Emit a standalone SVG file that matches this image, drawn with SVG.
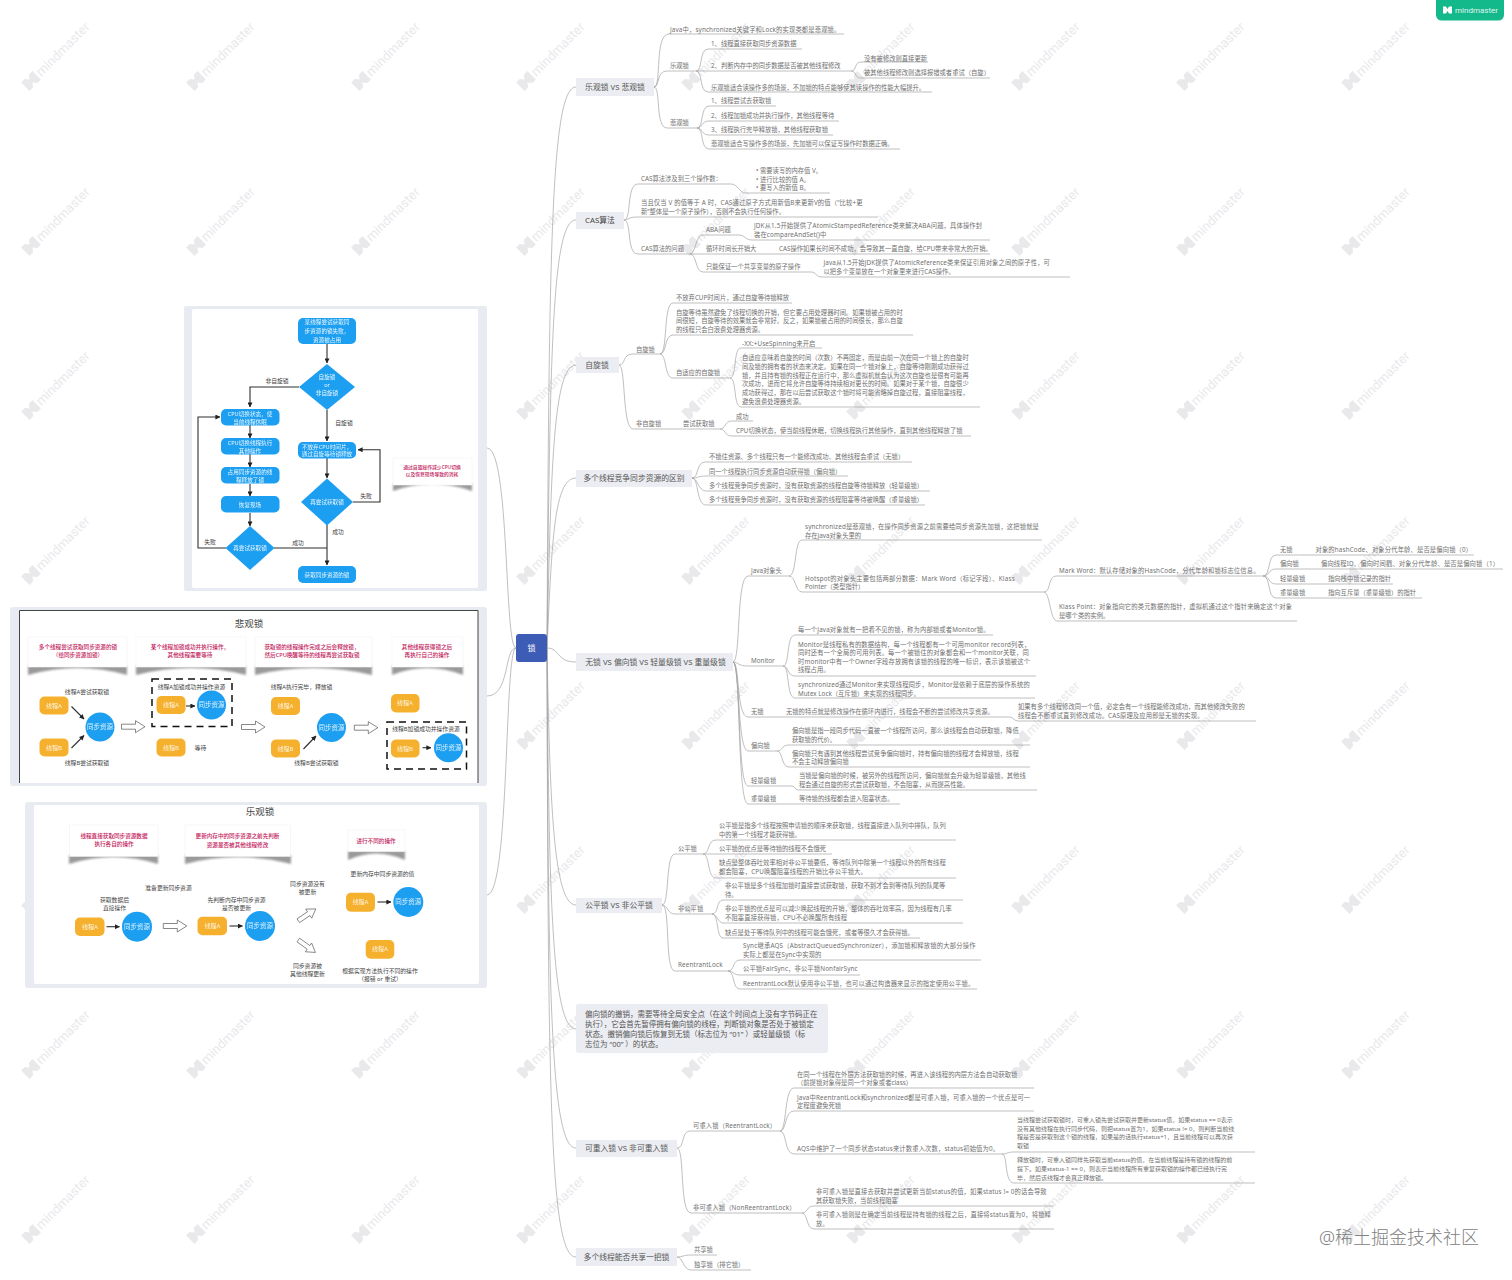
<svg xmlns="http://www.w3.org/2000/svg" xmlns:xlink="http://www.w3.org/1999/xlink" width="1512" height="1280" viewBox="0 0 1512 1280">
<style>
text{font-family:"Noto Sans","Noto Sans CJK SC",sans-serif}
.t{font-size:6.3px;fill:#707070}
.x{letter-spacing:.14px}
.sm{font-size:6px}
.b{font-size:7.8px;fill:#555;text-anchor:middle}
.br{fill:#ecedf2}
.c path{fill:none;stroke:#a3a3a3;stroke-width:.7}
.fr{fill:#e9ebf2}
.w{fill:#fff}
.bl{fill:#1d9ff1}
.or{fill:#f5b12e}
.wt{font-size:5.6px;fill:#fff;text-anchor:middle;opacity:.9}
.ot{font-size:6px;fill:#fff;text-anchor:middle;opacity:.85}
.ct{font-size:6.5px;fill:#fff;text-anchor:middle;opacity:.85}
.l{font-size:5.8px;fill:#444;text-anchor:middle}
.p{font-size:5.6px;fill:#c2185b;text-anchor:middle;font-weight:500}
.ti{font-size:9.5px;fill:#444;text-anchor:middle}
.f{fill:none;stroke:#2f2f2f;stroke-width:1.1}
.a{marker-end:url(#ah)}
.d{fill:none;stroke:#111;stroke-width:1.5;stroke-dasharray:7 5}
.s{fill:#9a9a9a;filter:url(#sb)}
.h{fill:#fff;stroke:#555;stroke-width:.7}
.wm{fill:#e9e9ec}
</style>
<defs>
<marker id="ah" markerUnits="userSpaceOnUse" markerWidth="5" markerHeight="5" refX="4.6" refY="2.5" orient="auto"><path d="M0,0L5,2.5L0,5Z" fill="#222"/></marker>
<filter id="sb" x="-10%" y="-60%" width="120%" height="220%"><feGaussianBlur stdDeviation="1"/></filter>
<g id="wm" class="wm"><path d="M-8,-6L-3,-6L0,-2L3,-6L8,-6L8,6L3,6L0,2L-3,6L-8,6Z"/><text x="10" y="4.5" font-size="13" style="fill:#e9e9ec;font-family:Roboto,sans-serif">mindmaster</text></g>
<polygon id="ha" class="h" points="0,-2.5 14,-2.5 14,-6 23.5,0 14,6 14,2.5 0,2.5"/>
</defs>
<rect width="1512" height="1280" fill="#fff"/>
<g id="watermarks">
<use xlink:href="#wm" transform="translate(31,81) rotate(-45)"/><use xlink:href="#wm" transform="translate(196,81) rotate(-45)"/><use xlink:href="#wm" transform="translate(361,81) rotate(-45)"/><use xlink:href="#wm" transform="translate(526,81) rotate(-45)"/><use xlink:href="#wm" transform="translate(691,81) rotate(-45)"/><use xlink:href="#wm" transform="translate(856,81) rotate(-45)"/><use xlink:href="#wm" transform="translate(1021,81) rotate(-45)"/><use xlink:href="#wm" transform="translate(1186,81) rotate(-45)"/><use xlink:href="#wm" transform="translate(1351,81) rotate(-45)"/>
<use xlink:href="#wm" transform="translate(31,246) rotate(-45)"/><use xlink:href="#wm" transform="translate(196,246) rotate(-45)"/><use xlink:href="#wm" transform="translate(361,246) rotate(-45)"/><use xlink:href="#wm" transform="translate(526,246) rotate(-45)"/><use xlink:href="#wm" transform="translate(691,246) rotate(-45)"/><use xlink:href="#wm" transform="translate(856,246) rotate(-45)"/><use xlink:href="#wm" transform="translate(1021,246) rotate(-45)"/><use xlink:href="#wm" transform="translate(1186,246) rotate(-45)"/><use xlink:href="#wm" transform="translate(1351,246) rotate(-45)"/>
<use xlink:href="#wm" transform="translate(31,410) rotate(-45)"/><use xlink:href="#wm" transform="translate(196,410) rotate(-45)"/><use xlink:href="#wm" transform="translate(361,410) rotate(-45)"/><use xlink:href="#wm" transform="translate(526,410) rotate(-45)"/><use xlink:href="#wm" transform="translate(691,410) rotate(-45)"/><use xlink:href="#wm" transform="translate(856,410) rotate(-45)"/><use xlink:href="#wm" transform="translate(1021,410) rotate(-45)"/><use xlink:href="#wm" transform="translate(1186,410) rotate(-45)"/><use xlink:href="#wm" transform="translate(1351,410) rotate(-45)"/>
<use xlink:href="#wm" transform="translate(31,575) rotate(-45)"/><use xlink:href="#wm" transform="translate(196,575) rotate(-45)"/><use xlink:href="#wm" transform="translate(361,575) rotate(-45)"/><use xlink:href="#wm" transform="translate(526,575) rotate(-45)"/><use xlink:href="#wm" transform="translate(691,575) rotate(-45)"/><use xlink:href="#wm" transform="translate(856,575) rotate(-45)"/><use xlink:href="#wm" transform="translate(1021,575) rotate(-45)"/><use xlink:href="#wm" transform="translate(1186,575) rotate(-45)"/><use xlink:href="#wm" transform="translate(1351,575) rotate(-45)"/>
<use xlink:href="#wm" transform="translate(31,740) rotate(-45)"/><use xlink:href="#wm" transform="translate(196,740) rotate(-45)"/><use xlink:href="#wm" transform="translate(361,740) rotate(-45)"/><use xlink:href="#wm" transform="translate(526,740) rotate(-45)"/><use xlink:href="#wm" transform="translate(691,740) rotate(-45)"/><use xlink:href="#wm" transform="translate(856,740) rotate(-45)"/><use xlink:href="#wm" transform="translate(1021,740) rotate(-45)"/><use xlink:href="#wm" transform="translate(1186,740) rotate(-45)"/><use xlink:href="#wm" transform="translate(1351,740) rotate(-45)"/>
<use xlink:href="#wm" transform="translate(31,904) rotate(-45)"/><use xlink:href="#wm" transform="translate(196,904) rotate(-45)"/><use xlink:href="#wm" transform="translate(361,904) rotate(-45)"/><use xlink:href="#wm" transform="translate(526,904) rotate(-45)"/><use xlink:href="#wm" transform="translate(691,904) rotate(-45)"/><use xlink:href="#wm" transform="translate(856,904) rotate(-45)"/><use xlink:href="#wm" transform="translate(1021,904) rotate(-45)"/><use xlink:href="#wm" transform="translate(1186,904) rotate(-45)"/><use xlink:href="#wm" transform="translate(1351,904) rotate(-45)"/>
<use xlink:href="#wm" transform="translate(31,1069) rotate(-45)"/><use xlink:href="#wm" transform="translate(196,1069) rotate(-45)"/><use xlink:href="#wm" transform="translate(361,1069) rotate(-45)"/><use xlink:href="#wm" transform="translate(526,1069) rotate(-45)"/><use xlink:href="#wm" transform="translate(691,1069) rotate(-45)"/><use xlink:href="#wm" transform="translate(856,1069) rotate(-45)"/><use xlink:href="#wm" transform="translate(1021,1069) rotate(-45)"/><use xlink:href="#wm" transform="translate(1186,1069) rotate(-45)"/><use xlink:href="#wm" transform="translate(1351,1069) rotate(-45)"/>
<use xlink:href="#wm" transform="translate(31,1234) rotate(-45)"/><use xlink:href="#wm" transform="translate(196,1234) rotate(-45)"/><use xlink:href="#wm" transform="translate(361,1234) rotate(-45)"/><use xlink:href="#wm" transform="translate(526,1234) rotate(-45)"/><use xlink:href="#wm" transform="translate(691,1234) rotate(-45)"/><use xlink:href="#wm" transform="translate(856,1234) rotate(-45)"/><use xlink:href="#wm" transform="translate(1021,1234) rotate(-45)"/><use xlink:href="#wm" transform="translate(1186,1234) rotate(-45)"/><use xlink:href="#wm" transform="translate(1351,1234) rotate(-45)"/>
</g>

<g id="connectors" class="c">
<path d="M516,648C504,648 510,448 487,448"/><path d="M516,648C504,648 510,696 487,696"/><path d="M516,648C504,648 510,895 487,895"/>
<path d="M547,648C549,250 551,87 576,87"/><path d="M547,648C550,350 552,220 576,220"/><path d="M547,648C551,470 553,365 576,365"/><path d="M547,648C552,540 554,478 576,478"/><path d="M547,648C560,648 556,662 576,662"/><path d="M547,648C550,800 553,905 576,905"/><path d="M547,648C549,900 552,1029 576,1029"/><path d="M547,648C548,1000 551,1148 576,1148"/><path d="M547,648C548,1100 550,1257 576,1257"/>
<path d="M654,87C662,87 654,34 669,34H844"/><path d="M654,87C660,87 656,71 667,71H696"/><path d="M654,87C661,87 655,128 667,128H697"/>
<path d="M696,71C703,71 699,49 708,49H802"/><path d="M696,71H851"/><path d="M696,71C703,71 699,92 708,92H932"/>
<path d="M851,71C857,71 854,62 861,62H928"/><path d="M851,71C857,71 854,78 861,78H990"/>
<path d="M697,128C704,128 700,106 709,106H776"/><path d="M697,128C703,128 701,121 709,121H839"/><path d="M697,128C703,128 701,135 709,135H833"/><path d="M697,128C704,128 700,149 709,149H900"/>
<path d="M624,220C632,220 626,184 638,184H731C738,184 739,193 746,193H830"/><path d="M624,220C629,220 628,217 637,217H878"/><path d="M624,220C632,220 626,254 638,254H690"/>
<path d="M690,254C696,254 695,235 703,235H739C745,235 745,240 752,240H990"/><path d="M690,254H990"/><path d="M690,254C697,254 695,272 703,272H811C816,272 816,277 822,277H1070"/>
<path d="M619,365C626,365 622,354 633,354H660"/><path d="M619,365C626,365 622,429 633,429H720"/>
<path d="M660,354C668,354 663,303 673,303H792"/><path d="M660,354C667,354 664,335 673,335H913"/><path d="M660,354C667,354 664,378 673,378H730"/>
<path d="M730,378C737,378 733,348 741,348H822"/><path d="M730,378C737,378 733,407 741,407H980"/>
<path d="M720,429C726,429 724,421 732,421H753"/><path d="M720,429C726,429 724,436 732,436H971"/>
<path d="M692,478C699,478 696,462 705,462H912"/><path d="M692,478C698,478 698,476 706,476H848"/><path d="M692,478C698,478 698,491 706,491H930"/><path d="M692,478C699,478 696,505 706,505H925"/>
<path d="M733,662C741,662 736,576 748,576H789"/><path d="M733,662C738,662 738,666 748,666H783"/><path d="M733,662C740,662 736,717 748,717H1010C1013,717 1014,721 1018,721H1256"/><path d="M733,662C740,662 737,751 748,751H777"/><path d="M733,662C741,662 737,786 748,786H792C795,786 795,790 798,790H1037"/><path d="M733,662C741,662 737,804 748,804H900"/>
<path d="M789,576C797,576 794,540 802,540H1042"/><path d="M789,576C796,576 795,592 802,592H1044"/>
<path d="M1044,592C1051,592 1048,576 1056,576H1263"/><path d="M1044,592C1050,592 1050,621 1057,621H1297"/>
<path d="M1263,576C1271,576 1267,555 1276,555H1474"/><path d="M1263,576C1270,576 1268,569 1276,569H1503"/><path d="M1263,576C1270,576 1268,584 1276,584H1393"/><path d="M1263,576C1271,576 1267,598 1276,598H1422"/>
<path d="M783,666C790,666 786,635 795,635H993"/><path d="M783,666C789,666 787,676 795,676H1036"/><path d="M783,666C790,666 786,698 795,698H1035"/>
<path d="M777,751C783,751 781,745 789,745H1030"/><path d="M777,751C783,751 781,767 789,767H1030"/>
<path d="M662,905C670,905 665,854 675,854H703"/><path d="M662,905C668,905 667,914 675,914H712"/><path d="M662,905C671,905 664,971 675,971H728"/>
<path d="M703,854C710,854 707,840 716,840H956"/><path d="M703,854H832"/><path d="M703,854C710,854 707,878 716,878H956"/>
<path d="M712,914C719,914 716,900 723,900H963"/><path d="M712,914C717,914 718,923 723,923H963"/><path d="M712,914C719,914 716,938 723,938H920"/>
<path d="M728,971C735,971 732,960 740,960H981"/><path d="M728,971C734,971 733,975 740,975H860"/><path d="M728,971C735,971 732,989 740,989H977"/>
<path d="M677,1148C685,1148 681,1131 690,1131H780"/><path d="M677,1148C685,1148 679,1213 691,1213H802"/>
<path d="M780,1131C787,1131 784,1088 794,1088H1034"/><path d="M780,1131C787,1131 784,1111 794,1111H1034"/><path d="M780,1131C787,1131 784,1154 794,1154H1002"/>
<path d="M1002,1154C1008,1154 1006,1152 1014,1152H1255"/><path d="M1002,1154C1008,1154 1004,1183 1014,1183H1255"/>
<path d="M802,1213C808,1213 806,1206 814,1206H1054"/><path d="M802,1213C808,1213 806,1229 814,1229H1054"/>
<path d="M677,1257C683,1257 683,1255 691,1255H717"/><path d="M677,1257C683,1257 683,1270 691,1270H751"/>
</g>

<g id="n-center"><rect x="516" y="634" width="31" height="28" rx="3" fill="#3d5cb6"/><text x="531.5" y="651" font-size="8" fill="#fff" text-anchor="middle">锁</text></g>

<g id="n-optimistic">
<rect class="br" x="576" y="78" width="78" height="18"/><text class="b" x="615" y="90">乐观锁 VS 悲观锁</text>
<text class="t x" x="670" y="32">Java中，synchronized关键字和Lock的实现类都是悲观锁。</text>
<text class="t" x="670" y="67.5">乐观锁</text>
<text class="t" x="711" y="45.5">1、线程直接获取同步资源数据</text>
<text class="t" x="711" y="67.5">2、判断内存中的同步数据是否被其他线程修改</text>
<text class="t" x="864" y="60.5">没有被修改则直接更新</text>
<text class="t" x="864" y="74.5">被其他线程修改则选择报错或者重试（自旋）</text>
<text class="t" x="711" y="89.5">乐观锁适合读操作多的场景，不加锁的特点能够使其读操作的性能大幅提升。</text>
<text class="t" x="670" y="125">悲观锁</text>
<text class="t" x="711" y="103">1、线程尝试去获取锁</text>
<text class="t" x="711" y="117.5">2、线程加锁成功并执行操作，其他线程等待</text>
<text class="t" x="711" y="132">3、线程执行完毕释放锁，其他线程获取锁</text>
<text class="t" x="711" y="146">悲观锁适合写操作多的场景，先加锁可以保证写操作时数据正确。</text>
</g>

<g id="n-cas">
<rect class="br" x="576" y="212" width="48" height="17"/><text class="b" x="600" y="223" style="fill:#444">CAS算法</text>
<text class="t" x="641" y="181">CAS算法涉及到三个操作数：</text>
<text class="t" x="756" y="173">•</text><text class="t" x="756" y="181.5">•</text><text class="t" x="756" y="190">•</text>
<text class="t" x="760" y="173">需要读写的内存值 V。</text><text class="t" x="760" y="181.5">进行比较的值 A。</text><text class="t" x="760" y="190">要写入的新值 B。</text>
<text class="t x" x="641" y="204.5">当且仅当 V 的值等于 A 时，CAS通过原子方式用新值B来更新V的值（“比较+更</text>
<text class="t" x="641" y="213.5">新”整体是一个原子操作），否则不会执行任何操作。</text>
<text class="t" x="641" y="250.5">CAS算法的问题</text>
<text class="t" x="706" y="231.5">ABA问题</text>
<text class="t x" x="754" y="227.5">JDK从1.5开始提供了AtomicStampedReference类来解决ABA问题，具体操作封</text>
<text class="t x" x="754" y="236.5">装在compareAndSet()中</text>
<text class="t" x="706" y="250.5">循环时间长开销大</text>
<text class="t" x="779" y="250.5">CAS操作如果长时间不成功，会导致其一直自旋，给CPU带来非常大的开销。</text>
<text class="t" x="706" y="269">只能保证一个共享变量的原子操作</text>
<text class="t x" x="823.5" y="265">Java从1.5开始JDK提供了AtomicReference类来保证引用对象之间的原子性，可</text>
<text class="t" x="823.5" y="274">以把多个变量放在一个对象里来进行CAS操作。</text>
</g>

<g id="n-spin">
<rect class="br" x="576" y="357" width="43" height="16"/><text class="b" x="597" y="368">自旋锁</text>
<text class="t" x="636" y="351.5">自旋锁</text>
<text class="t" x="676" y="299.5">不放弃CUP时间片，通过自旋等待锁释放</text>
<text class="t" x="676" y="314.5">自旋等待虽然避免了线程切换的开销，但它要占用处理器时间。如果锁被占用的时</text>
<text class="t" x="676" y="323">间很短，自旋等待的效果就会非常好。反之，如果锁被占用的时间很长，那么自旋</text>
<text class="t" x="676" y="331.5">的线程只会白浪费处理器资源。</text>
<text class="t" x="676" y="375">自适应的自旋锁</text>
<text class="t x" x="742" y="346">-XX:+UseSpinning来开启</text>
<text class="t" x="742" y="360">自适应意味着自旋的时间（次数）不再固定，而是由前一次在同一个锁上的自旋时</text>
<text class="t" x="742" y="369">间及锁的拥有者的状态来决定。如果在同一个锁对象上，自旋等待刚刚成功获得过</text>
<text class="t" x="742" y="377.5">锁，并且持有锁的线程正在运行中，那么虚拟机就会认为这次自旋也是很有可能再</text>
<text class="t" x="742" y="386">次成功，进而它将允许自旋等待持续相对更长的时间。如果对于某个锁，自旋很少</text>
<text class="t" x="742" y="395">成功获得过，那在以后尝试获取这个锁时将可能省略掉自旋过程，直接阻塞线程，</text>
<text class="t" x="742" y="403.5">避免浪费处理器资源。</text>
<text class="t" x="636" y="425.5">非自旋锁</text>
<text class="t" x="683" y="425.5">尝试获取锁</text>
<text class="t" x="736" y="418.5">成功</text>
<text class="t" x="736" y="432.5">CPU切换状态，使当前线程休眠，切换线程执行其他操作，直到其他线程释放了锁</text>
</g>

<g id="n-compete">
<rect class="br" x="576" y="470" width="116" height="17"/><text class="b" x="634" y="481">多个线程竞争同步资源的区别</text>
<text class="t" x="709" y="459">不锁住资源、多个线程只有一个能修改成功、其他线程会重试（无锁）</text>
<text class="t" x="709" y="473.5">同一个线程执行同步资源自动获得锁（偏向锁）</text>
<text class="t" x="709" y="487.5">多个线程竞争同步资源时，没有获取资源的线程自旋等待锁释放（轻量级锁）</text>
<text class="t" x="709" y="502">多个线程竞争同步资源时，没有获取资源的线程阻塞等待被唤醒（重量级锁）</text>
</g>

<g id="n-levels">
<rect class="br" x="576" y="653" width="157" height="18"/><text class="b" x="655.5" y="665">无锁 VS 偏向锁 VS 轻量级锁 VS 重量级锁</text>
<text class="t" x="751" y="573">Java对象头</text>
<text class="t x" x="805" y="528.5">synchronized是悲观锁，在操作同步资源之前需要给同步资源先加锁，这把锁就是</text>
<text class="t" x="805" y="537.5">存在Java对象头里的</text>
<text class="t x" x="805" y="580.5" style="letter-spacing:.22px">Hotspot的对象头主要包括两部分数据：Mark Word（标记字段）、Klass</text>
<text class="t" x="805" y="589">Pointer（类型指针）</text>
<text class="t x" x="1059" y="573">Mark Word：默认存储对象的HashCode，分代年龄和锁标志位信息。</text>
<text class="t" x="1280" y="551.5">无锁</text><text class="t x" x="1315.5" y="551.5">对象的hashCode、对象分代年龄、是否是偏向锁（0）</text>
<text class="t" x="1280" y="566">偏向锁</text><text class="t x" x="1321" y="566">偏向线程ID、偏向时间戳、对象分代年龄、是否是偏向锁（1）</text>
<text class="t" x="1280" y="580.5">轻量级锁</text><text class="t" x="1328" y="580.5">指向栈中锁记录的指针</text>
<text class="t" x="1280" y="594.5">重量级锁</text><text class="t" x="1328" y="594.5">指向互斥量（重量级锁）的指针</text>
<text class="t x" x="1059" y="608.5">Klass Point：对象指向它的类元数据的指针，虚拟机通过这个指针来确定这个对象</text>
<text class="t" x="1059" y="617.5">是哪个类的实例。</text>
<text class="t" x="751" y="663">Monitor</text>
<text class="t x" x="798" y="631.5">每一个Java对象就有一把看不见的锁，称为内部锁或者Monitor锁。</text>
<text class="t x" x="798" y="646.5">Monitor是线程私有的数据结构，每一个线程都有一个可用monitor record列表，</text>
<text class="t x" x="798" y="655">同时还有一个全局的可用列表。每一个被锁住的对象都会和一个monitor关联，同</text>
<text class="t x" x="798" y="663.5">时monitor中有一个Owner字段存放拥有该锁的线程的唯一标识，表示该锁被这个</text>
<text class="t" x="798" y="672">线程占用。</text>
<text class="t x" x="798" y="686.5">synchronized通过Monitor来实现线程同步，Monitor是依赖于底层的操作系统的</text>
<text class="t" x="798" y="695.5">Mutex Lock（互斥锁）来实现的线程同步。</text>
<text class="t" x="751" y="714">无锁</text><text class="t" x="786" y="714">无锁的特点就是修改操作在循环内进行，线程会不断的尝试修改共享资源。</text>
<text class="t" x="1018" y="709">如果有多个线程修改同一个值，必定会有一个线程能修改成功，而其他修改失败的</text>
<text class="t x" x="1018" y="718">线程会不断重试直到修改成功。CAS原理及应用即是无锁的实现。</text>
<text class="t" x="751" y="748">偏向锁</text>
<text class="t" x="792" y="732.5">偏向锁是指一段同步代码一直被一个线程所访问，那么该线程会自动获取锁，降低</text>
<text class="t" x="792" y="741.5">获取锁的代价。</text>
<text class="t" x="792" y="755.5">偏向锁只有遇到其他线程尝试竞争偏向锁时，持有偏向锁的线程才会释放锁，线程</text>
<text class="t" x="792" y="764">不会主动释放偏向锁</text>
<text class="t" x="751" y="782.5">轻量级锁</text>
<text class="t" x="799" y="778">当锁是偏向锁的时候，被另外的线程所访问，偏向锁就会升级为轻量级锁，其他线</text>
<text class="t" x="799" y="787">程会通过自旋的形式尝试获取锁，不会阻塞，从而提高性能。</text>
<text class="t" x="751" y="801">重量级锁</text><text class="t" x="799" y="801">等待锁的线程都会进入阻塞状态。</text>
</g>

<g id="n-fair">
<rect class="br" x="576" y="898" width="86" height="15"/><text class="b" x="619" y="908">公平锁 VS 非公平锁</text>
<text class="t" x="678" y="850.5">公平锁</text>
<text class="t" x="719" y="827.5">公平锁是指多个线程按照申请锁的顺序来获取锁，线程直接进入队列中排队，队列</text>
<text class="t" x="719" y="836.5">中的第一个线程才能获得锁。</text>
<text class="t" x="719" y="850.5">公平锁的优点是等待锁的线程不会饿死</text>
<text class="t" x="719" y="865">缺点是整体吞吐效率相对非公平锁要低，等待队列中除第一个线程以外的所有线程</text>
<text class="t x" x="719" y="874">都会阻塞，CPU唤醒阻塞线程的开销比非公平锁大。</text>
<text class="t" x="678" y="911">非公平锁</text>
<text class="t" x="725" y="888">非公平锁是多个线程加锁时直接尝试获取锁，获取不到才会到等待队列的队尾等</text>
<text class="t" x="725" y="896.5">待。</text>
<text class="t" x="725" y="911">非公平锁的优点是可以减少唤起线程的开销，整体的吞吐效率高，因为线程有几率</text>
<text class="t x" x="725" y="920">不阻塞直接获得锁，CPU不必唤醒所有线程</text>
<text class="t" x="725" y="934.5">缺点是处于等待队列中的线程可能会饿死，或者等很久才会获得锁。</text>
<text class="t x" x="678" y="967">ReentrantLock</text>
<text class="t" x="743" y="948" style="letter-spacing:.2px">Sync继承AQS（AbstractQueuedSynchronizer），添加锁和释放锁的大部分操作</text>
<text class="t x" x="743" y="957">实际上都是在Sync中实现的</text>
<text class="t x" x="743" y="971">公平锁FairSync，非公平锁NonfairSync</text>
<text class="t x" x="743" y="985.5">ReentrantLock默认使用非公平锁，也可以通过构造器来显示的指定使用公平锁。</text>
</g>

<g id="n-revoke">
<rect class="br" x="576" y="1004" width="252" height="49" rx="2"/>
<text font-size="7.5" fill="#555"><tspan x="585" y="1016.5">偏向锁的撤销，需要等待全局安全点（在这个时间点上没有字节码正在</tspan><tspan x="585" y="1026.8">执行），它会首先暂停拥有偏向锁的线程，判断锁对象是否处于被锁定</tspan><tspan x="585" y="1037">状态。撤销偏向锁后恢复到无锁（标志位为 “01” ）或轻量级锁（标</tspan><tspan x="585" y="1047">志位为 “00” ）的状态。</tspan></text>
</g>

<g id="n-reentrant">
<rect class="br" x="576" y="1140" width="101" height="17"/><text class="b" x="626.5" y="1151">可重入锁 VS 非可重入锁</text>
<text class="t x" x="693" y="1128">可重入锁（ReentrantLock）</text>
<text class="t" x="797" y="1076.5">在同一个线程在外层方法获取锁的时候，再进入该线程的内层方法会自动获取锁</text>
<text class="t" x="797" y="1084.5">（前提锁对象得是同一个对象或者class）</text>
<text class="t x" x="797" y="1099.5">Java中ReentrantLock和synchronized都是可重入锁，可重入锁的一个优点是可一</text>
<text class="t" x="797" y="1108">定程度避免死锁</text>
<text class="t x" x="797" y="1150.5">AQS中维护了一个同步状态status来计数重入次数，status初始值为0。</text>
<text class="t sm" x="1017" y="1122">当线程尝试获取锁时，可重入锁先尝试获取并更新status值，如果status == 0表示</text>
<text class="t sm" x="1017" y="1130.5">没有其他线程在执行同步代码，则把status置为1，如果status != 0，则判断当前线</text>
<text class="t sm" x="1017" y="1139">程是否是获取到这个锁的线程，如果是的话执行status+1，且当前线程可以再次获</text>
<text class="t sm" x="1017" y="1148">取锁</text>
<text class="t sm" x="1017" y="1162">释放锁时，可重入锁同样先获取当前status的值，在当前线程是持有锁的线程的前</text>
<text class="t sm" x="1017" y="1171">提下。如果status-1 == 0，则表示当前线程所有重复获取锁的操作都已经执行完</text>
<text class="t sm" x="1017" y="1179.5">毕，然后该线程才会真正释放锁。</text>
<text class="t x" x="693" y="1210">非可重入锁（NonReentrantLock）</text>
<text class="t x" x="816" y="1194">非可重入锁是直接去获取并尝试更新当前status的值，如果status != 0的话会导致</text>
<text class="t" x="816" y="1203">其获取锁失败，当前线程阻塞</text>
<text class="t x" x="816" y="1216.5">非可重入锁则是在确定当前线程是持有锁的线程之后，直接将status置为0，将锁释</text>
<text class="t" x="816" y="1225.5">放。</text>
</g>

<g id="n-share">
<rect class="br" x="576" y="1248" width="101" height="18"/><text class="b" x="626.5" y="1260">多个线程能否共享一把锁</text>
<text class="t" x="694" y="1252">共享锁</text>
<text class="t" x="694" y="1267">独享锁（排它锁）</text>
</g>

<g id="img-spin">
<rect class="fr" x="184" y="306" width="303" height="285" rx="2"/><rect class="w" x="192" y="309" width="286" height="279" rx="2"/>
<g id="flow-lines">
<path class="f a" d="M327,344V363"/><path class="f a" d="M299,387H250V407"/><path class="f a" d="M327,410V441"/><path class="f a" d="M327,458V478"/><path class="f a" d="M353,502H380V449.7H358"/><path class="f a" d="M327,525V565"/><path class="f a" d="M250,425V438"/><path class="f a" d="M250,454V467"/><path class="f a" d="M250,484V496"/><path class="f a" d="M250,513V526"/><path class="f a" d="M226,548H198V417H220"/><path class="f" d="M274,548H327"/>
</g>
<rect class="bl" x="298" y="318" width="58" height="26" rx="5"/><text class="wt"><tspan x="327" y="324">某线程尝试获取同</tspan><tspan x="327" y="333">步资源的锁失败，</tspan><tspan x="327" y="342">资源被占用</tspan></text>
<path class="bl" d="M327,364L355,387L327,410L299,387Z"/><text class="wt"><tspan x="327" y="379">自旋锁</tspan><tspan x="327" y="387">or</tspan><tspan x="327" y="395">非自旋锁</tspan></text>
<text class="l" x="277" y="383">非自旋锁</text><text class="l" x="344" y="425">自旋锁</text>
<rect class="bl" x="298" y="442" width="58" height="16.5" rx="5"/><text class="wt"><tspan x="327" y="449">不放弃CPU时间片，</tspan><tspan x="327" y="456">通过自旋等待锁释放</tspan></text>
<path class="bl" d="M327,478.5L353,502L327,525.5L301,502Z"/><text class="wt" x="327" y="504">再尝试获取锁</text>
<text class="l" x="366" y="498">失败</text><text class="l" x="338" y="534">成功</text>
<rect class="bl" x="298" y="566" width="58" height="17" rx="5"/><text class="wt" x="327" y="577">获取同步资源的锁</text>
<rect class="bl" x="221" y="409" width="58.5" height="16.5" rx="5"/><text class="wt"><tspan x="250" y="416">CPU切换状态，使</tspan><tspan x="250" y="423.5">当前线程休眠</tspan></text>
<rect class="bl" x="221" y="438" width="58.5" height="16.5" rx="5"/><text class="wt"><tspan x="250" y="445">CPU切换线程执行</tspan><tspan x="250" y="452.5">其他操作</tspan></text>
<rect class="bl" x="221" y="467" width="58.5" height="16.5" rx="5"/><text class="wt"><tspan x="250" y="474">占用同步资源的线</tspan><tspan x="250" y="481.5">程释放了锁</tspan></text>
<rect class="bl" x="221" y="496" width="58.5" height="16.5" rx="5"/><text class="wt" x="250" y="506.5">恢复现场</text>
<path class="bl" d="M250,526L274.5,548L250,570L225.5,548Z"/><text class="wt" x="250" y="550">再尝试获取锁</text>
<text class="l" x="210" y="543.5">失败</text><text class="l" x="298" y="544.5">成功</text>
<path class="s" d="M393,484V491Q432,477 472,491V484Z"/><rect class="w" x="393" y="458" width="79" height="27" stroke="#eee" stroke-width=".5"/>
<text class="p" style="font-size:4.8px"><tspan x="432" y="469">通过自旋操作减少CPU切换</tspan><tspan x="432" y="476">以及恢复现场导致的消耗</tspan></text>
</g>

<g id="img-pessimistic">
<rect class="fr" x="10" y="607" width="477" height="179" rx="3"/><rect class="w" x="19" y="610" width="459" height="173"/>
<path d="M19.5,783V610.5H478V783" fill="none" stroke="#444" stroke-width="1"/>
<text class="ti" x="249" y="626.5">悲观锁</text>
<path class="s" d="M28,666V675Q78,661 127,675V666Z"/><rect class="w" x="28" y="637" width="99" height="30" stroke="#eee" stroke-width=".5"/>
<path class="s" d="M136,666V675Q191,661 246,675V666Z"/><rect class="w" x="136" y="637" width="110" height="30" stroke="#eee" stroke-width=".5"/>
<path class="s" d="M255,666V675Q313,661 372,675V666Z"/><rect class="w" x="255" y="637" width="117" height="30" stroke="#eee" stroke-width=".5"/>
<path class="s" d="M392,666V675Q427,661 463,675V666Z"/><rect class="w" x="392" y="637" width="71" height="30" stroke="#eee" stroke-width=".5"/>
<text class="p"><tspan x="78" y="648.5">多个线程尝试获取同步资源的锁</tspan><tspan x="78" y="656.5">（给同步资源加锁）</tspan></text>
<text class="p"><tspan x="190" y="648.5">某个线程加锁成功并执行操作，</tspan><tspan x="190" y="656.5">其他线程需要等待</tspan></text>
<text class="p"><tspan x="312" y="648.5">获取锁的线程操作完成之后会释放锁，</tspan><tspan x="312" y="656.5">然后CPU唤醒等待的线程再尝试获取锁</tspan></text>
<text class="p"><tspan x="427" y="648.5">其他线程获得锁之后</tspan><tspan x="427" y="656.5">再执行自己的操作</tspan></text>
<text class="l" x="87" y="693.5">线程A尝试获取锁</text><text class="l" x="87" y="764.5">线程B尝试获取锁</text>
<rect class="or" x="39.5" y="696.5" width="29" height="18" rx="5"/><text class="ot" x="54" y="707.5">线程A</text>
<rect class="or" x="39.5" y="738.5" width="29" height="18" rx="5"/><text class="ot" x="54" y="749.5">线程B</text>
<circle class="bl" cx="100" cy="727" r="14.5"/><text class="ct" x="100" y="729.3">同步资源</text>
<path class="f a" d="M71.5,706.5L84,719"/><path class="f a" d="M71.5,748L84,735.5"/>
<use xlink:href="#ha" transform="translate(121.5,726.7)"/>
<path class="d" d="M152,679H232V726.5H152Z"/>
<text class="l" x="191.5" y="688.5">线程A加锁成功并操作资源</text>
<rect class="or" x="156.5" y="696" width="29" height="18" rx="5"/><text class="ot" x="171" y="707">线程A</text>
<path class="f a" d="M186,706H195"/><circle class="bl" cx="211.5" cy="705" r="14.5"/><text class="ct" x="211.5" y="707.3">同步资源</text>
<rect class="or" x="156.5" y="738.5" width="29" height="18" rx="5"/><text class="ot" x="171" y="749.5">线程B</text>
<text class="l" x="200.5" y="750">等待</text>
<use xlink:href="#ha" transform="translate(241.5,727)"/>
<text class="l" x="301.5" y="688.5">线程A执行完毕，释放锁</text>
<rect class="or" x="271" y="697" width="29" height="18" rx="5"/><text class="ot" x="285.5" y="708">线程A</text>
<circle class="bl" cx="331.5" cy="727.5" r="14.5"/><text class="ct" x="331.5" y="729.8">同步资源</text>
<rect class="or" x="271" y="739.5" width="29" height="18" rx="5"/><text class="ot" x="285.5" y="750.5">线程B</text>
<path class="f a" d="M303.5,749L316,736"/><text class="l" x="316.5" y="764.5">线程B尝试获取锁</text>
<use xlink:href="#ha" transform="translate(354.3,727.7)"/>
<rect class="or" x="391" y="694" width="28.5" height="18.5" rx="5"/><text class="ot" x="405" y="705">线程A</text>
<path class="d" d="M387,722H466.5V769H387Z"/>
<text class="l" x="426" y="731">线程B加锁成功并操作资源</text>
<rect class="or" x="391" y="739.5" width="28.5" height="18" rx="5"/><text class="ot" x="405" y="750.5">线程B</text>
<path class="f a" d="M422.5,747.7H431"/><circle class="bl" cx="448.5" cy="747.7" r="14.5"/><text class="ct" x="448.5" y="750">同步资源</text>
</g>

<g id="img-optimistic">
<rect class="fr" x="25" y="802" width="462" height="186" rx="3"/><rect class="w" x="34" y="805" width="445" height="179" rx="2"/>
<text class="ti" x="260" y="815">乐观锁</text>
<path class="s" d="M69,855V864Q114,850 158,864V855Z"/><rect class="w" x="69.5" y="825" width="88.5" height="31.5" stroke="#eee" stroke-width=".5"/>
<path class="s" d="M185,855V864Q238,850 291,864V855Z"/><rect class="w" x="185" y="825" width="105.5" height="31.5" stroke="#eee" stroke-width=".5"/>
<path class="s" d="M348,851V860Q376,847 405,860V851Z"/><rect class="w" x="348" y="830" width="57" height="21.5" stroke="#eee" stroke-width=".5"/>
<text class="p"><tspan x="114" y="837.5">线程直接获取同步资源数据</tspan><tspan x="114" y="846">执行各自的操作</tspan></text>
<text class="p"><tspan x="237.5" y="838">更新内存中的同步资源之前先判断</tspan><tspan x="237.5" y="846.5">资源是否被其他线程修改</tspan></text>
<text class="p" x="376" y="842.5">进行不同的操作</text>
<text class="l" x="168.5" y="889.5">准备更新同步资源</text>
<text class="l"><tspan x="114.5" y="902">获取数据后</tspan><tspan x="114.5" y="910.3">直接操作</tspan></text>
<rect class="or" x="75" y="917.5" width="29.5" height="18.5" rx="5"/><text class="ot" x="90" y="929">线程A</text>
<path class="f a" d="M106.5,926.7H119.5"/><circle class="bl" cx="137" cy="926.7" r="15"/><text class="ct" x="137" y="929">同步资源</text>
<use xlink:href="#ha" transform="translate(163.3,926)"/>
<text class="l"><tspan x="236.5" y="902">先判断内存中同步资源</tspan><tspan x="236.5" y="910.3">是否被更新</tspan></text>
<rect class="or" x="197.5" y="916.7" width="29.5" height="18.5" rx="5"/><text class="ot" x="212.5" y="928">线程A</text>
<path class="f a" d="M229.5,926H242.5"/><circle class="bl" cx="260" cy="926" r="15"/><text class="ct" x="260" y="928.3">同步资源</text>
<text class="l"><tspan x="307.5" y="886">同步资源没有</tspan><tspan x="307.5" y="894.3">被更新</tspan></text>
<use xlink:href="#ha" transform="translate(298.3,920.7) rotate(-34) scale(.9)"/>
<use xlink:href="#ha" transform="translate(298.3,940) rotate(36) scale(.9)"/>
<text class="l"><tspan x="307.5" y="967.5">同步资源被</tspan><tspan x="307.5" y="976">其他线程更新</tspan></text>
<text class="l" x="382.5" y="876.3">更新内存中同步资源的值</text>
<rect class="or" x="346" y="892.7" width="29" height="19" rx="5"/><text class="ot" x="360.5" y="904">线程A</text>
<path class="f a" d="M377.5,902H391"/><circle class="bl" cx="408.3" cy="902" r="15"/><text class="ct" x="408.3" y="904.3">同步资源</text>
<rect class="or" x="365.7" y="940" width="28.6" height="18.7" rx="5"/><text class="ot" x="380" y="951">线程A</text>
<text class="l"><tspan x="380" y="972.5">根据实现方法执行不同的操作</tspan><tspan x="380" y="981">（报错 or 重试）</tspan></text>
</g>

<g id="logo"><path d="M1436,0H1504V15A5.5,5.5 0 0 1 1498.5,20.5H1441.5A5.5,5.5 0 0 1 1436,15Z" fill="#13b98b"/><path d="M1443,6.5L1446,6.5L1447.5,9L1449,6.5L1452,6.5V13.5H1449L1447.5,11L1446,13.5H1443Z" fill="#fff"/><text x="1455" y="12.7" font-size="8" style="font-family:Roboto,sans-serif" fill="#fff" fill-opacity=".9">mindmaster</text></g>
<text id="credit" x="1319" y="1243.5" font-size="18" fill="#808080" font-weight="300">@稀土掘金技术社区</text>
</svg>
